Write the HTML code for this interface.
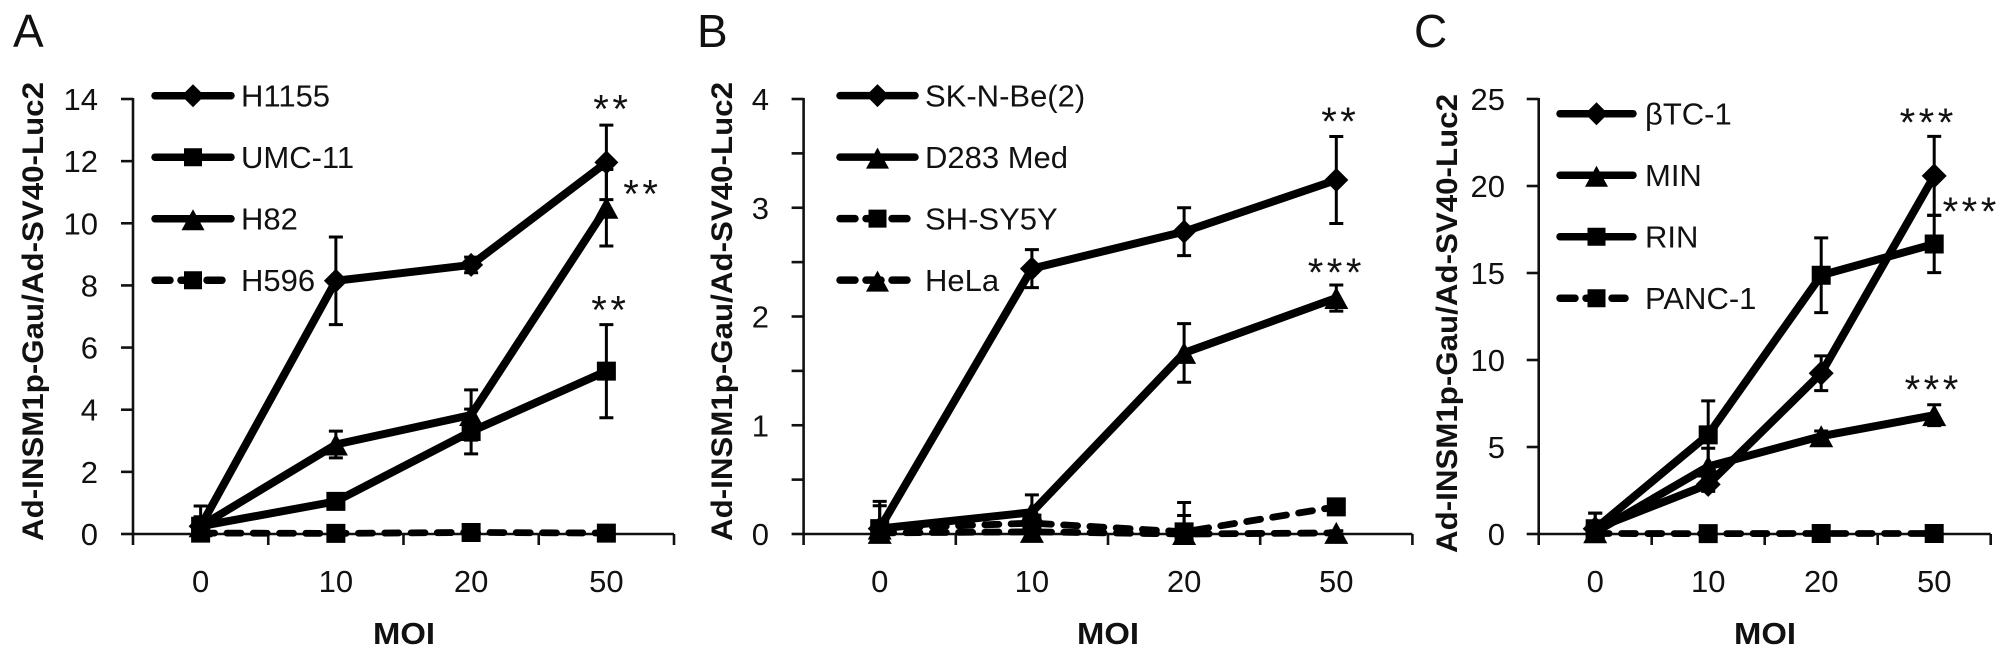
<!DOCTYPE html>
<html lang="en">
<head>
<meta charset="utf-8">
<title>INSM1 promoter activity by MOI</title>
<style>
html,body{margin:0;padding:0;background:#fff;}
svg{display:block;}
text{font-family:"Liberation Sans",sans-serif;fill:#111;}
.tick{font-size:31px;}
.legend{font-size:31px;}
.title{font-size:30px;font-weight:bold;}
.moi{font-size:31px;font-weight:bold;}
.letter{font-size:46px;}
.star{font-size:40px;letter-spacing:3.5px;}
</style>
</head>
<body>
<svg id="figure" xmlns="http://www.w3.org/2000/svg" width="2008" height="658" viewBox="0 0 2008 658">
  <g id="panel-a">
    <text class="letter" x="13" y="47">A</text>
    <text class="title" transform="translate(43,541) rotate(-90)" textLength="459" lengthAdjust="spacingAndGlyphs">Ad-INSM1p-Gau/Ad-SV40-Luc2</text>
    <text class="moi" x="373" y="644" textLength="62" lengthAdjust="spacingAndGlyphs">MOI</text>
  </g>
  <g id="panel-b">
    <text class="letter" x="697" y="47">B</text>
    <text class="title" transform="translate(732,541) rotate(-90)" textLength="459" lengthAdjust="spacingAndGlyphs">Ad-INSM1p-Gau/Ad-SV40-Luc2</text>
    <text class="moi" x="1077" y="644" textLength="62" lengthAdjust="spacingAndGlyphs">MOI</text>
  </g>
  <g id="panel-c">
    <text class="letter" x="1414" y="47">C</text>
    <text class="title" transform="translate(1457,553) rotate(-90)" textLength="459" lengthAdjust="spacingAndGlyphs">Ad-INSM1p-Gau/Ad-SV40-Luc2</text>
    <text class="moi" x="1734" y="644" textLength="62" lengthAdjust="spacingAndGlyphs">MOI</text>
  </g>
</svg>
<script>
const categories = ['0', '10', '20', '50'];

const aTicks = [0, 2, 4, 6, 8, 10, 12, 14];
const aTickLabels = ['0', '2', '4', '6', '8', '10', '12', '14'];
const aH1155 = [0.25, 8.15, 8.66, 11.96];
const aH1155Err = [0.65, 1.41, 0.25, 1.2];
const aUMC11 = [0.25, 1.05, 3.3, 5.24];
const aUMC11Err = [0.3, 0.1, 0.72, 1.5];
const aH82 = [0.25, 2.88, 3.83, 10.5];
const aH82Err = [0.3, 0.43, 0.81, 1.23];
const aH596 = [0.03, 0.02, 0.05, 0.03];
const aH596Err = [0.05, 0.05, 0.1, 0.05];

const bTicks = [0, 0.5, 1, 1.5, 2, 2.5, 3, 3.5, 4];
const bTickLabels = ['0', '', '1', '', '2', '', '3', '', '4'];
const bSKNBe2 = [0.05, 2.44, 2.78, 3.255];
const bSKNBe2Err = [0.25, 0.175, 0.22, 0.4];
const bD283 = [0.05, 0.2, 1.665, 2.17];
const bD283Err = [0.21, 0.16, 0.27, 0.12];
const bSHSY5Y = [0.05, 0.1, 0.02, 0.25];
const bSHSY5YErr = [0.05, 0.04, 0.27, 0.03];
const bHeLa = [0.01, 0.02, 0, 0.01];
const bHeLaErr = [0.02, 0.02, 0.17, 0.02];

const cTicks = [0, 5, 10, 15, 20, 25];
const cTickLabels = ['0', '5', '10', '15', '20', '25'];
const cBTC1 = [0.3, 2.85, 9.24, 20.58];
const cBTC1Err = [0.9, 0.4, 1, 2.27];
const cMIN = [0.1, 3.88, 5.62, 6.83];
const cMINErr = [0.2, 1.05, 0.3, 0.6];
const cRIN = [0.3, 5.7, 14.87, 16.67];
const cRINErr = [0.9, 1.95, 2.15, 1.65];
const cPANC1 = [0.03, 0.02, 0.03, 0.03];
const cPANC1Err = [0.05, 0.05, 0.05, 0.05];

const NS = 'http://www.w3.org/2000/svg';

function make(parent, tag, attrs, content) {
  const node = document.createElementNS(NS, tag);
  for (const key in attrs) node.setAttribute(key, attrs[key]);
  if (content !== undefined) node.textContent = content;
  parent.appendChild(node);
  return node;
}

function markerPoints(shape, size) {
  const h = size / 2;
  if (shape === 'diamond') return `0,${-h} ${h},0 0,${h} ${-h},0`;
  if (shape === 'square') return `${-h + 1.5},${-h + 1.5} ${h - 1.5},${-h + 1.5} ${h - 1.5},${h - 1.5} ${-h + 1.5},${h - 1.5}`;
  return `0,${-h} ${h + 1},${h} ${-h - 1},${h}`;
}

function drawPanel(id, geo, ticks, tickLabels, yMax, series, stars, legend) {
  const root = document.getElementById(id);
  const band = (geo.x1 - geo.x0) / categories.length;
  const xScale = i => geo.x0 + (i + 0.5) * band;
  const yScale = v => geo.y0 - (v / yMax) * (geo.y0 - geo.y1);

  const axis = make(root, 'g', {stroke: '#111', 'stroke-width': 2.6, fill: 'none'});
  
  
  const yLine = make(axis, 'line', {x1: geo.x0, x2: geo.x0, y1: yScale(yMax) - 1, y2: geo.y0 + 11});
  
  
  const xLine = make(axis, 'line', {x1: geo.x0, x2: geo.x1, y1: geo.y0, y2: geo.y0});
  
  

  ticks.forEach((t, i) => {
    const tick = make(axis, 'line', {x1: geo.x0 - 12, x2: geo.x0, y1: yScale(t), y2: yScale(t)});
    
    
    if (tickLabels[i]) {
      const label = make(root, 'text', {class: 'tick', x: geo.labelX, y: yScale(t) + 11, 'text-anchor': 'end'}, tickLabels[i]);
      
      
    }
  });

  for (let k = 1; k <= categories.length; k++) {
    const tick = make(axis, 'line', {x1: geo.x0 + k * band, x2: geo.x0 + k * band, y1: geo.y0, y2: geo.y0 + 11});
    
    
  }
  categories.forEach((c, i) => {
    const label = make(root, 'text', {class: 'tick', x: xScale(i), y: 592, 'text-anchor': 'middle'}, c);
    
    
  });

  series.forEach(s => {
    const group = make(root, 'g', {});
    
    

    s.values.forEach((v, i) => {
      const top = yScale(v + s.err[i]);
      const bottom = yScale(Math.max(v - s.err[i], 0));
      const bar = make(group, 'path', {
        d: `M${xScale(i) - 7} ${top}H${xScale(i) + 7}M${xScale(i)} ${top}V${bottom}M${xScale(i) - 7} ${bottom}H${xScale(i) + 7}`,
        stroke: '#000', 'stroke-width': 3, fill: 'none'
      });
      
      
    });

    const d = s.values.map((v, i) => `${i ? 'L' : 'M'}${xScale(i)} ${yScale(v)}`).join('');
    const attrs = {d, fill: 'none', stroke: '#000', 'stroke-width': 8, 'stroke-linejoin': 'round'};
    if (s.dashed) {
      attrs['stroke-dasharray'] = '14 12.3';
      attrs['stroke-linecap'] = 'round';
      attrs['stroke-width'] = 6.8;
    }
    const line = make(group, 'path', attrs);
    
    

    s.values.forEach((v, i) => {
      const mark = make(group, 'polygon', {
        points: markerPoints(s.shape, s.shape === 'diamond' ? geo.diamond : 22),
        transform: `translate(${xScale(i)},${yScale(v)})`,
        fill: '#000'
      });
      
      
    });
  });

  stars.forEach(st => {
    const last = st.series.values.length - 1;
    const yv = yScale(st.series.values[last] + st.series.err[last]);
    const star = make(root, 'text', {class: 'star', x: xScale(last) + st.dx, y: yv + st.dy + 19, 'text-anchor': 'middle'}, st.text);
    
    
  });

  series.forEach((s, i) => {
    const rowY = legend.y + i * legend.gap;
    const row = make(root, 'g', {});
    
    
    const attrs = {
      x1: legend.x0 + 3, x2: s.dashed ? legend.x1 - 11 : legend.x1 - 3,
      y1: rowY, y2: rowY, stroke: '#000', 'stroke-width': 7.5, 'stroke-linecap': 'round'
    };
    if (s.dashed) attrs['stroke-dasharray'] = '15 11';
    const swatch = make(row, 'line', attrs);
    
    
    const mark = make(row, 'polygon', {
      points: markerPoints(s.shape, s.shape === 'diamond' ? 23 : 21),
      transform: `translate(${(legend.x0 + legend.x1) / 2},${rowY + (s.shape === 'triangle' ? 1 : 0)})`,
      fill: '#000'
    });
    
    
    const text = make(row, 'text', {class: 'legend', x: legend.textX, y: rowY + 11}, s.label);
    
    
  });
}

const aS1 = {name: 'h1155', label: 'H1155', values: aH1155, err: aH1155Err, shape: 'diamond'};
const aS2 = {name: 'umc-11', label: 'UMC-11', values: aUMC11, err: aUMC11Err, shape: 'square'};
const aS3 = {name: 'h82', label: 'H82', values: aH82, err: aH82Err, shape: 'triangle'};
const aS4 = {name: 'h596', label: 'H596', values: aH596, err: aH596Err, shape: 'square', dashed: true};
drawPanel('panel-a',
  {x0: 133, x1: 674, y0: 534, y1: 99, labelX: 98, diamond: 24},
  aTicks, aTickLabels, 14, [aS1, aS2, aS3, aS4],
  [{series: aS1, dx: 6, dy: -21.5, text: '**'},
   {series: aS3, dx: 36, dy: 19, text: '**'},
   {series: aS2, dx: 4, dy: -20, text: '**'}],
  {x0: 152, x1: 234, y: 95.7, gap: 61.5, textX: 241});

const bS1 = {name: 'sk-n-be2', label: 'SK-N-Be(2)', values: bSKNBe2, err: bSKNBe2Err, shape: 'diamond'};
const bS2 = {name: 'd283-med', label: 'D283 Med', values: bD283, err: bD283Err, shape: 'triangle'};
const bS3 = {name: 'sh-sy5y', label: 'SH-SY5Y', values: bSHSY5Y, err: bSHSY5YErr, shape: 'square', dashed: true};
const bS4 = {name: 'hela', label: 'HeLa', values: bHeLa, err: bHeLaErr, shape: 'triangle', dashed: true};
drawPanel('panel-b',
  {x0: 803.6, x1: 1412.4, y0: 534, y1: 99, labelX: 769, diamond: 24},
  bTicks, bTickLabels, 4, [bS1, bS2, bS3, bS4],
  [{series: bS1, dx: 4, dy: -20.5, text: '**'},
   {series: bS2, dx: 0, dy: -18, text: '***'}],
  {x0: 837, x1: 918, y: 95.6, gap: 61.5, textX: 925});

const cS1 = {name: 'btc-1', label: 'βTC-1', values: cBTC1, err: cBTC1Err, shape: 'diamond'};
const cS2 = {name: 'min', label: 'MIN', values: cMIN, err: cMINErr, shape: 'triangle'};
const cS3 = {name: 'rin', label: 'RIN', values: cRIN, err: cRINErr, shape: 'square'};
const cS4 = {name: 'panc-1', label: 'PANC-1', values: cPANC1, err: cPANC1Err, shape: 'square', dashed: true};
drawPanel('panel-c',
  {x0: 1538.7, x1: 1990.7, y0: 534, y1: 99, labelX: 1505, diamond: 25},
  cTicks, cTickLabels, 25, [cS1, cS2, cS3, cS4],
  [{series: cS1, dx: -6, dy: -19.4, text: '***'},
   {series: cS3, dx: 37, dy: -9, text: '***'},
   {series: cS2, dx: -1, dy: -20.7, text: '***'}],
  {x0: 1557, x1: 1636, y: 113.7, gap: 61.5, textX: 1645});
</script>
</body>
</html>
